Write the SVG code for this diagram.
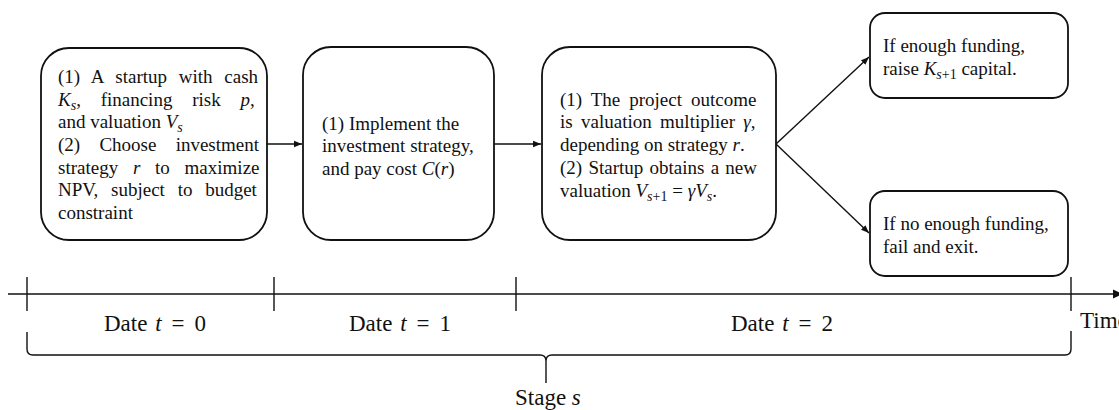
<svg xmlns="http://www.w3.org/2000/svg" width="1119" height="410" viewBox="0 0 1119 410">
<style>
  text { font-family: "Liberation Serif", "Times New Roman", serif; fill: #111; }
  .bt { font-size: 19px; }
  .dt { font-size: 23px; }
  .i { font-style: italic; }
  .box { fill: #fff; stroke: #111; stroke-width: 1.8; }
  .ln { fill: none; stroke: #111; stroke-width: 1.4; }
  .sub { font-size: 14px; }
</style>
<defs>
  <marker id="ah" markerWidth="9" markerHeight="8" refX="8" refY="4" orient="auto" markerUnits="userSpaceOnUse">
    <path d="M0,0.8 L8,4 L0,7.2 Z" fill="#111"/>
  </marker>
  <marker id="ahb" markerWidth="12" markerHeight="10" refX="10" refY="5" orient="auto" markerUnits="userSpaceOnUse">
    <path d="M0,0.5 L10,5 L0,9.5 Z" fill="#111"/>
  </marker>
</defs>

<g id="connectors">
  <line class="ln" x1="267" y1="144" x2="302" y2="144" marker-end="url(#ah)"/>
  <line class="ln" x1="494" y1="144" x2="541" y2="144" marker-end="url(#ah)"/>
  <line class="ln" x1="776" y1="144" x2="869" y2="57" marker-end="url(#ah)"/>
  <line class="ln" x1="776" y1="144" x2="869" y2="233" marker-end="url(#ah)"/>
</g>

<g id="node1">
  <rect class="box" x="41" y="48" width="226" height="192" rx="28"/>
  <text class="bt" x="58" y="83" word-spacing="7">(1) A startup with cash</text>
  <text class="bt" x="58" y="106" word-spacing="15"><tspan class="i">K</tspan><tspan class="i sub" dy="4">s</tspan><tspan dy="-4">, financing risk </tspan><tspan class="i">p</tspan>,</text>
  <text class="bt" x="58" y="128">and valuation <tspan class="i">V</tspan><tspan class="i sub" dy="4">s</tspan></text>
  <text class="bt" x="58" y="151" word-spacing="14.5">(2) Choose investment</text>
  <text class="bt" x="58" y="174" word-spacing="10">strategy <tspan class="i">r</tspan> to maximize</text>
  <text class="bt" x="58" y="196" word-spacing="8">NPV, subject to budget</text>
  <text class="bt" x="58" y="219">constraint</text>
</g>

<g id="node2">
  <rect class="box" x="303" y="47" width="191" height="193" rx="28"/>
  <text class="bt" x="322" y="130">(1) Implement the</text>
  <text class="bt" x="322" y="152">investment strategy,</text>
  <text class="bt" x="322" y="175">and pay cost <tspan class="i">C</tspan>(<tspan class="i">r</tspan>)</text>
</g>

<g id="node3">
  <rect class="box" x="542" y="47" width="234" height="193" rx="28"/>
  <text class="bt" x="560" y="106" word-spacing="4.2">(1) The project outcome</text>
  <text class="bt" x="560" y="128" word-spacing="3.6">is valuation multiplier <tspan class="i">γ</tspan>,</text>
  <text class="bt" x="560" y="151">depending on strategy <tspan class="i">r</tspan>.</text>
  <text class="bt" x="560" y="174" word-spacing="1.5">(2) Startup obtains a new</text>
  <text class="bt" x="560" y="197">valuation <tspan class="i">V</tspan><tspan class="sub" dy="4"><tspan class="i">s</tspan>+1</tspan><tspan dy="-4"> = </tspan><tspan class="i">γV</tspan><tspan class="i sub" dy="4">s</tspan><tspan dy="-4">.</tspan></text>
</g>

<g id="node4">
  <rect class="box" x="870" y="13" width="198" height="85" rx="15"/>
  <text class="bt" x="883" y="52">If enough funding,</text>
  <text class="bt" x="883" y="75">raise <tspan class="i">K</tspan><tspan class="sub" dy="4"><tspan class="i">s</tspan>+1</tspan><tspan dy="-4"> capital.</tspan></text>
</g>

<g id="node5">
  <rect class="box" x="870" y="191" width="198" height="85" rx="15"/>
  <text class="bt" x="883" y="230">If no enough funding,</text>
  <text class="bt" x="883" y="253">fail and exit.</text>
</g>

<g id="timeline">
  <line class="ln" x1="8" y1="294" x2="1123" y2="294" marker-end="url(#ahb)"/>
  <line class="ln" x1="27" y1="277" x2="27" y2="311"/>
  <line class="ln" x1="274" y1="277" x2="274" y2="311"/>
  <line class="ln" x1="516" y1="277" x2="516" y2="311"/>
  <line class="ln" x1="1071" y1="277" x2="1071" y2="311"/>
  <text class="dt" x="104" y="331">Date <tspan class="i" dx="2">t</tspan><tspan dx="10">=</tspan><tspan dx="10">0</tspan></text>
  <text class="dt" x="349" y="331">Date <tspan class="i" dx="2">t</tspan><tspan dx="10">=</tspan><tspan dx="10">1</tspan></text>
  <text class="dt" x="731" y="331">Date <tspan class="i" dx="2">t</tspan><tspan dx="10">=</tspan><tspan dx="10">2</tspan></text>
  <text class="dt" x="1080" y="328">Time</text>
</g>

<g id="brace">
  <path class="ln" d="M27,332 L27,349 Q27,355 33,355 L540,355 Q546,355 546,361 L546,383 M546,361 Q546,355 552,355 L1065,355 Q1071,355 1071,349 L1071,331"/>
  <text class="dt" x="515" y="405">Stage <tspan class="i">s</tspan></text>
</g>
</svg>
